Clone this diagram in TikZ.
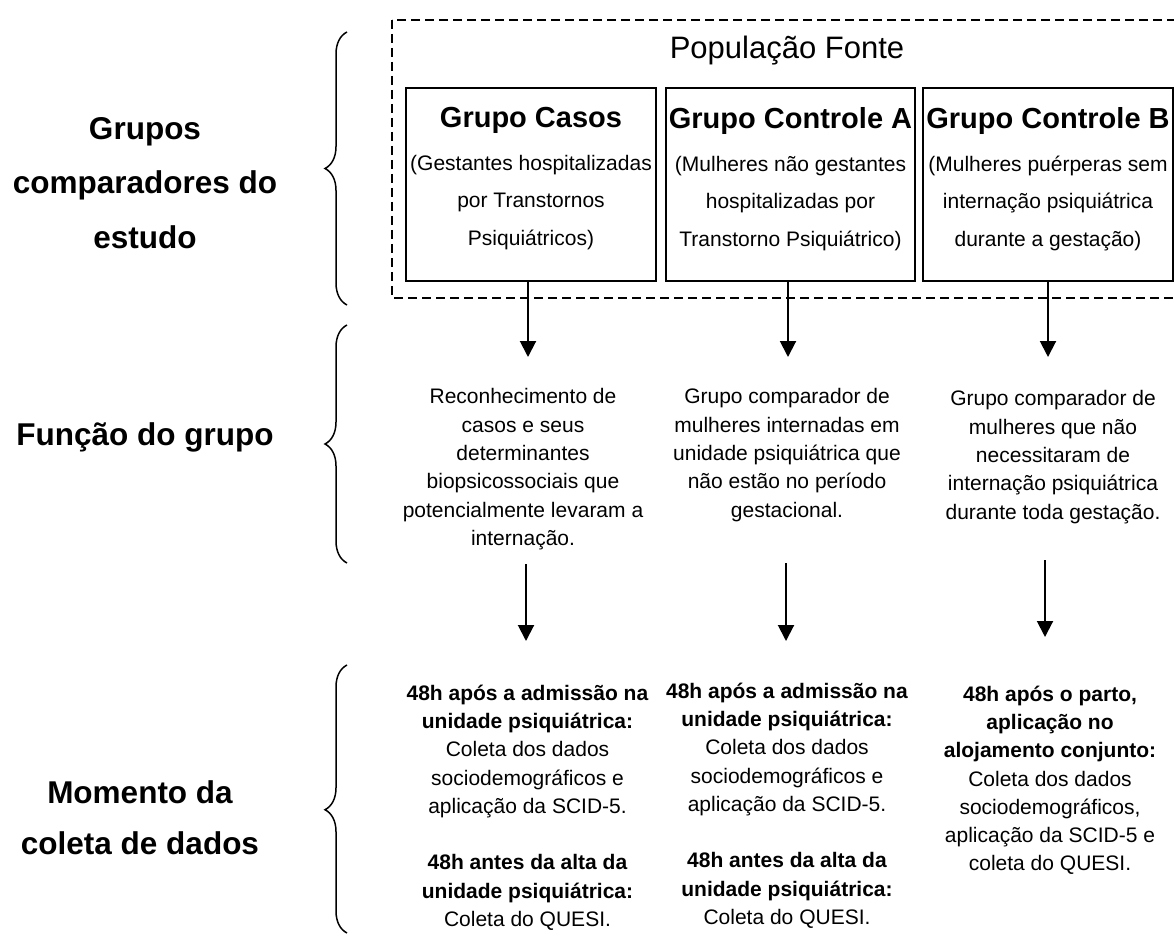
\documentclass[tikz,border=0pt]{standalone}
\usepackage{fontspec}
\setmainfont{Liberation Sans}
\usetikzlibrary{arrows.meta,decorations.pathreplacing}

\begin{document}
\begin{tikzpicture}[x=1pt,y=1pt,yscale=-1,xscale=1,
	grpbox/.style={draw,line width=2.5pt,minimum width=250pt,minimum height=193pt,inner sep=0pt},
	boxtxt/.style={align=center,anchor=north,inner sep=0pt,font=\fontsize{21}{37.5}\selectfont},
	rotulo/.style={align=center,inner sep=0pt,font=\fontsize{31.5}{54.5}\selectfont\bfseries},
	coltxt/.style={align=center,anchor=north,inner sep=0pt,font=\fontsize{21}{28.3}\selectfont},
	seta/.style={line width=2pt,-{Triangle[width=16pt,length=16pt]}},
	chave/.style={decorate,decoration={brace,amplitude=22pt,aspect=#1},line width=1.5pt}]
	\useasboundingbox (0,0) rectangle (1174,941);
	
	%Dashed rectangle (populacao fonte)
	\draw [line width=1.5pt,dash pattern=on 9pt off 5pt] (392,20) rectangle (1178,298);
	% Text Node
	\node [inner sep=0pt,font=\fontsize{31}{37}\selectfont] (fonte) at (787,51) {População Fonte};
	
	%Boxes
	\node [grpbox] (casos) at (531,184.5) {};
	\node [grpbox,minimum width=249pt] (ctrlA) at (790.5,184.5) {};
	\node [grpbox] (ctrlB) at (1048,184.5) {};
	% Text Node
	\node [boxtxt] (casosT) at (531,107.5) {{\fontsize{29}{37.5}\selectfont\bfseries Grupo Casos}\\[5pt](Gestantes hospitalizadas\\por Transtornos\\Psiquiátricos)};
	% Text Node
	\node [boxtxt] (ctrlAT) at (790.5,107.5) {{\fontsize{29}{37.5}\selectfont\bfseries Grupo Controle A}\\[5pt](Mulheres não gestantes\\hospitalizadas por\\Transtorno Psiquiátrico)};
	% Text Node
	\node [boxtxt] (ctrlBT) at (1048,107.5) {{\fontsize{29}{37.5}\selectfont\bfseries Grupo Controle B}\\[5pt](Mulheres puérperas sem\\internação psiquiátrica\\durante a gestação)};
	
	%Left labels
	\node [rotulo] (lblGrupos) at (145,183) {Grupos\\comparadores do\\estudo};
	\node [rotulo] (lblFuncao) at (145,437) {Função do grupo};
	\node [rotulo,font=\fontsize{31.5}{51}\selectfont\bfseries] (lblMomento) at (140,817.5) {Momento da\\coleta de dados};
	
	%Braces
	\draw [chave=0.5] (347,305) -- (347,32);
	\draw [chave=0.5] (347,563) -- (347,325);
	\draw [chave=0.46] (347,933) -- (347,665);
	
	%Function of each group
	\node [coltxt] (funcA) at (523,388.5) {Reconhecimento de\\casos e seus\\determinantes\\biopsicossociais que\\potencialmente levaram a\\internação.};
	\node [coltxt] (funcB) at (787,388.5) {Grupo comparador de\\mulheres internadas em\\unidade psiquiátrica que\\não estão no período\\gestacional.};
	\node [coltxt] (funcC) at (1053,390.5) {Grupo comparador de\\mulheres que não\\necessitaram de\\internação psiquiátrica\\durante toda gestação.};
	
	%Data collection moment
	\node [coltxt] (coletaA) at (527.5,684.5) {\textbf{48h após a admissão na}\\\textbf{unidade psiquiátrica:}\\Coleta dos dados\\sociodemográficos e\\aplicação da SCID-5.\\[28.3pt]\textbf{48h antes da alta da}\\\textbf{unidade psiquiátrica:}\\Coleta do QUESI.};
	\node [coltxt] (coletaB) at (787,682.5) {\textbf{48h após a admissão na}\\\textbf{unidade psiquiátrica:}\\Coleta dos dados\\sociodemográficos e\\aplicação da SCID-5.\\[28.3pt]\textbf{48h antes da alta da}\\\textbf{unidade psiquiátrica:}\\Coleta do QUESI.};
	\node [coltxt] (coletaC) at (1050,685.5) {\textbf{48h após o parto,}\\\textbf{aplicação no}\\\textbf{alojamento conjunto:}\\Coleta dos dados\\sociodemográficos,\\aplicação da SCID-5 e\\coleta do QUESI.};
	
	%Arrow ends
	\coordinate (fA) at (528,357);
	\coordinate (fB) at (788,357);
	\coordinate (fC) at (1048,357);
	\coordinate (sA) at (526,564);
	\coordinate (sB) at (786,563);
	\coordinate (sC) at (1045,560);
	\coordinate (cA) at (526,641);
	\coordinate (cB) at (786,641);
	\coordinate (cC) at (1045,637);
	
	%Straight Lines
	\draw [seta] (casos.south -| fA) -- (fA);
	\draw [seta] (ctrlA.south -| fB) -- (fB);
	\draw [seta] (ctrlB.south -| fC) -- (fC);
	%Straight Lines
	\draw [seta] (sA) -- (cA);
	\draw [seta] (sB) -- (cB);
	\draw [seta] (sC) -- (cC);
\end{tikzpicture}
\end{document}
